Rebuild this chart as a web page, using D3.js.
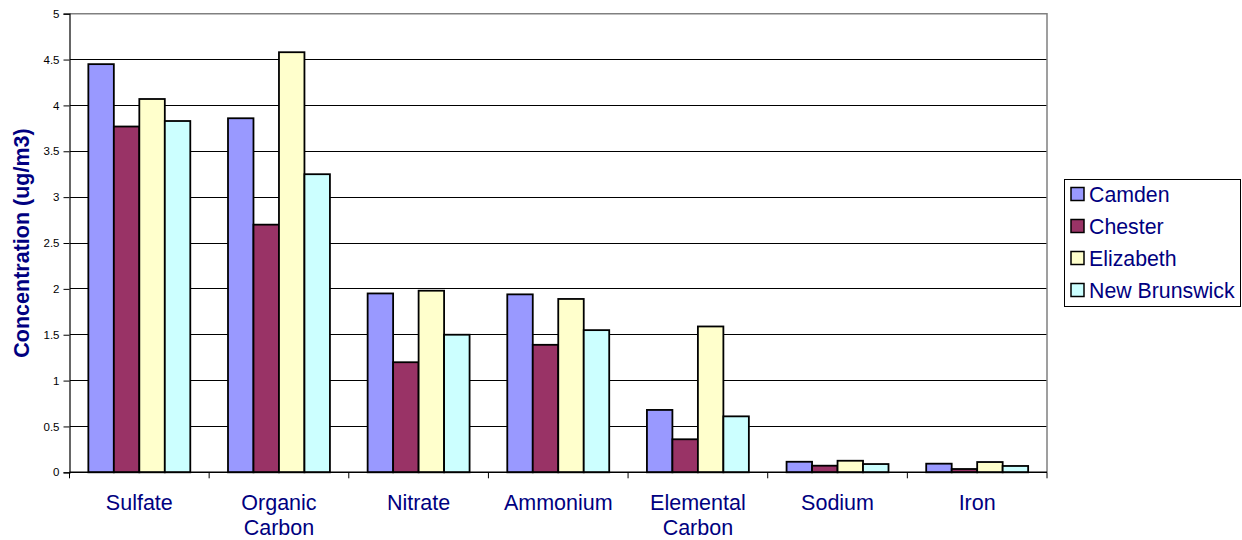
<!DOCTYPE html>
<html>
<head>
<meta charset="utf-8">
<script src="https://cdn.jsdelivr.net/npm/d3@7"></script>
<style>
  html, body { margin: 0; padding: 0; background: #fff; }
  svg { display: block; font-family: Arial, "Liberation Sans", sans-serif; }
</style>
</head>
<body>
<svg id="chart" width="1242" height="540"></svg>
<script>
// Species measured and mean concentration (ug/m3) per site
const categories = ["Sulfate", "Organic Carbon", "Nitrate", "Ammonium", "Elemental Carbon", "Sodium", "Iron"];
const sites = ["Camden", "Chester", "Elizabeth", "New Brunswick"];
const camden       = [4.45, 3.86, 1.95, 1.94, 0.68, 0.115, 0.094];
const chester      = [3.77, 2.70, 1.20, 1.39, 0.36, 0.072, 0.036];
const elizabeth    = [4.07, 4.58, 1.98, 1.89, 1.59, 0.126, 0.112];
const newBrunswick = [3.83, 3.25, 1.50, 1.55, 0.61, 0.090, 0.069];
const yTicks = [0, 0.5, 1, 1.5, 2, 2.5, 3, 3.5, 4, 4.5, 5];
const yTitle = "Concentration (ug/m3)";

const seriesValues = [camden, chester, elizabeth, newBrunswick];
const colors = ["#9999FF", "#993366", "#FFFFCC", "#CCFFFF"];

const svg = d3.select("#chart");
const plot = { left: 69.5, right: 1047, top: 13.7, bottom: 472.3 };

const x0 = d3.scaleBand().domain(categories).range([plot.left, plot.right]).padding(0);
const gap = x0.bandwidth() * 0.27;
const x1 = d3.scaleBand().domain(sites).range([gap / 2, x0.bandwidth() - gap / 2]).padding(0);
const y = d3.scaleLinear().domain([0, 5]).range([plot.bottom, plot.top]);

// Horizontal gridlines
svg.append("g")
  .selectAll("line")
  .data(yTicks.filter(t => t > 0 && t < 5))
  .join("line")
  .attr("x1", plot.left).attr("x2", plot.right)
  .attr("y1", d => y(d)).attr("y2", d => y(d))
  .attr("stroke", "#000").attr("stroke-width", 1).attr("shape-rendering", "crispEdges");

// Plot area border (top and right)
svg.append("path")
  .attr("d", `M${plot.left},${y(5)}H${plot.right}V${plot.bottom}`)
  .attr("fill", "none").attr("stroke", "#808080").attr("stroke-width", 1.5);

// Bars
const groups = svg.append("g").selectAll("g")
  .data(categories)
  .join("g")
  .attr("transform", d => `translate(${x0(d)},0)`);

groups.selectAll("rect")
  .data((c, i) => sites.map((s, k) => ({ site: s, value: seriesValues[k][i], k })))
  .join("rect")
  .attr("x", d => x1(d.site))
  .attr("width", x1.bandwidth())
  .attr("y", d => y(d.value))
  .attr("height", d => y(0) - y(d.value))
  .attr("fill", d => colors[d.k])
  .attr("stroke", "#000")
  .attr("stroke-width", 1.8);

// Y axis
const yAxis = svg.append("g")
  .attr("transform", `translate(${plot.left},0)`)
  .call(d3.axisLeft(y).tickValues(yTicks).tickSize(6).tickPadding(4).tickFormat(d3.format("")));
yAxis.select(".domain").attr("stroke", "#000").attr("stroke-width", 1.2);
yAxis.selectAll(".tick line").attr("stroke", "#000");
yAxis.selectAll(".tick text").attr("font-size", 11.5).attr("fill", "#000")
  .attr("font-family", "Arial, 'Liberation Sans', sans-serif");

// X axis: ticks at category boundaries
const xAxis = svg.append("g").attr("transform", `translate(0,${plot.bottom})`);
xAxis.append("line")
  .attr("x1", plot.left).attr("x2", plot.right)
  .attr("stroke", "#000").attr("stroke-width", 1.5);
const boundaries = categories.map(c => x0(c)).concat([plot.right]);
xAxis.selectAll(".bt")
  .data(boundaries)
  .join("line")
  .attr("class", "bt")
  .attr("x1", d => d).attr("x2", d => d)
  .attr("y1", 0).attr("y2", 6)
  .attr("stroke", "#000").attr("stroke-width", 1);

// Category labels (wrapped to two lines where needed)
const labels = svg.append("g").selectAll("text")
  .data(categories)
  .join("text")
  .attr("x", d => x0(d) + x0.bandwidth() / 2)
  .attr("y", 510)
  .attr("text-anchor", "middle")
  .attr("font-size", 21.5)
  .attr("fill", "#000080");
labels.each(function (d) {
  const words = d.split(" ");
  const t = d3.select(this);
  words.forEach((w, i) => {
    t.append("tspan")
      .attr("x", x0(d) + x0.bandwidth() / 2)
      .attr("dy", i === 0 ? 0 : 25)
      .text(w);
  });
});

// Y axis title
svg.append("text")
  .attr("transform", "translate(29,243) rotate(-90)")
  .attr("text-anchor", "middle")
  .attr("font-size", 21.5)
  .attr("font-weight", "bold")
  .attr("fill", "#000080")
  .text(yTitle);

// Legend
const legend = svg.append("g");
legend.append("rect")
  .attr("x", 1064.5).attr("y", 179.5)
  .attr("width", 176).attr("height", 127)
  .attr("fill", "#fff").attr("stroke", "#000").attr("stroke-width", 1);
const items = legend.selectAll("g.item")
  .data(sites)
  .join("g")
  .attr("class", "item")
  .attr("transform", (d, i) => `translate(0,${194 + i * 32})`);
items.append("rect")
  .attr("x", 1071).attr("y", -6.5)
  .attr("width", 13).attr("height", 13)
  .attr("fill", (d, i) => colors[i])
  .attr("stroke", "#000").attr("stroke-width", 1.5);
items.append("text")
  .attr("x", 1089).attr("y", 7.5)
  .attr("font-size", 21.3)
  .attr("fill", "#000080")
  .text(d => d);
</script>
</body>
</html>
